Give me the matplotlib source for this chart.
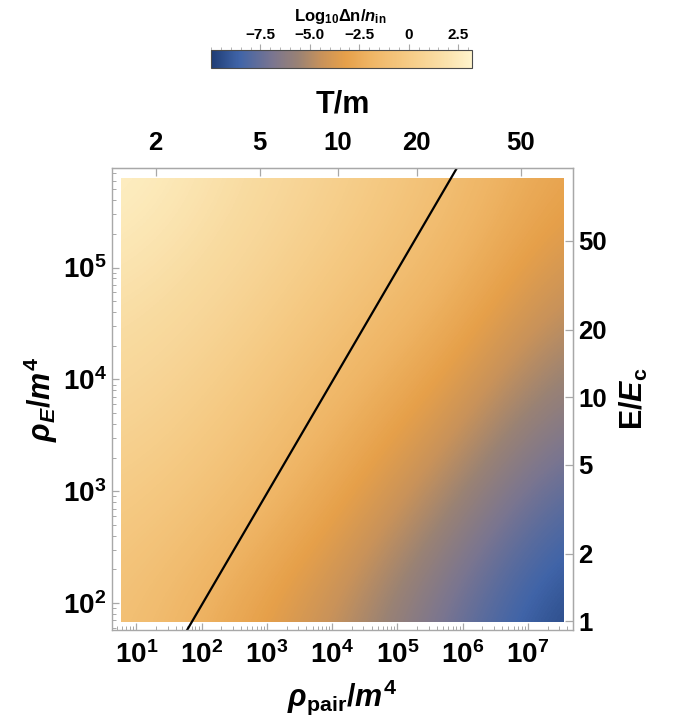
import numpy as np
import matplotlib
matplotlib.use('Agg')
import matplotlib.pyplot as plt
from matplotlib.colors import LinearSegmentedColormap
from matplotlib.patches import Rectangle
from matplotlib.ticker import FixedLocator

plt.rcParams['font.family'] = ['Liberation Sans', 'DejaVu Sans']
plt.rcParams['font.weight'] = 'bold'
plt.rcParams['mathtext.fontset'] = 'custom'
plt.rcParams['mathtext.rm'] = 'Liberation Sans:bold'
plt.rcParams['mathtext.it'] = 'Liberation Sans:bold:italic'
plt.rcParams['mathtext.bf'] = 'Liberation Sans:bold'

# sample grid (log10 units)
log_rho_pair = [0.76, 2.455, 4.15, 5.845, 7.54]   # columns, log10(rho_pair/m^4)
log_rho_E = [1.83, 2.82, 3.815, 4.81, 5.80]       # rows, log10(rho_E/m^4)
# log10(dn/n_in), rows from bottom to top
log_dn = [
    [-0.8, -2.9, -4.8, -7.5, -9.9],
    [0.0, -1.2, -3.2, -5.6, -8.4],
    [1.1, -0.1, -1.8, -3.7, -6.3],
    [2.0, 1.0, -0.5, -2.0, -4.5],
    [3.1, 1.8, 0.5, -1.0, -3.0],
]
cbar_min, cbar_max = -10.0, 3.2

# black line rho_pair = rho_E (two end points, log10)
line_log_rho_pair = [1.774, 5.915]
line_log_rho_E = [1.758, 5.894]

# secondary axes: rho_pair = c T^4, rho_E = rho_c E^2
log_c_T = 0.09
log_rho_c = 1.84
T_ticks = [2, 5, 10, 20, 50]
E_ticks = [1, 2, 5, 10, 20, 50]
rho_decades_x = [1, 2, 3, 4, 5, 6, 7]
rho_decades_y = [2, 3, 4, 5]
cbar_ticks = [-7.5, -5.0, -2.5, 0, 2.5]
cbar_labels = ['\u22127.5', '\u22125.0', '\u22122.5', '0', '2.5']

# Mathematica-like density gradient
grad_vals = [-10.0, -8.6, -6.9, -5.6, -4.4, -3.2, -1.9, -0.2, 1.5, 3.2]
grad_cols = ['#1e3c74', '#4064a8', '#7a7590', '#9a8274', '#c8925a',
             '#e6a04a', '#efb565', '#f5c982', '#f9dca2', '#fff4cc']
cmap = LinearSegmentedColormap.from_list(
    'm10', [((v - cbar_min) / (cbar_max - cbar_min), c) for v, c in zip(grad_vals, grad_cols)])

W, H = 678, 723
fig = plt.figure(figsize=(W / 100, H / 100), dpi=100)
ax = fig.add_axes([112 / W, 1 - 630 / H, (573 - 112) / W, (630 - 168) / H])
ax.set_xlim(0.625, 7.69)
ax.set_ylim(1.76, 5.89)

dx = (log_rho_pair[1] - log_rho_pair[0]) / 2
dy = (log_rho_E[1] - log_rho_E[0]) / 2
im = ax.imshow(np.array(log_dn), origin='lower', cmap=cmap, vmin=cbar_min, vmax=cbar_max,
               extent=[log_rho_pair[0] - dx, log_rho_pair[-1] + dx,
                       log_rho_E[0] - dy, log_rho_E[-1] + dy],
               interpolation='bicubic', aspect='auto')
clip = Rectangle((log_rho_pair[0], log_rho_E[0]), log_rho_pair[-1] - log_rho_pair[0],
                 log_rho_E[-1] - log_rho_E[0], transform=ax.transData)
im.set_clip_path(clip)

ax.plot(line_log_rho_pair, line_log_rho_E, color='black', lw=1.6)

frame_col = '#a8a8a8'
for s in ax.spines.values():
    s.set_color(frame_col)
    s.set_linewidth(1.0)

minor_x = [d + np.log10(k) for d in range(0, 8) for k in range(2, 10)]
minor_y = [d + np.log10(k) for d in range(1, 6) for k in range(2, 10)]
ax.xaxis.set_major_locator(FixedLocator(rho_decades_x))
ax.set_xticklabels([r'$\mathbf{10^{%d}}$' % d for d in rho_decades_x])
ax.xaxis.set_minor_locator(FixedLocator(minor_x))
ax.yaxis.set_major_locator(FixedLocator(rho_decades_y))
ax.set_yticklabels([r'$\mathbf{10^{%d}}$' % d for d in rho_decades_y])
ax.yaxis.set_minor_locator(FixedLocator(minor_y))
ax.tick_params(which='both', direction='in', color=frame_col, labelsize=20)
ax.tick_params(which='major', length=5, width=0.9)
ax.tick_params(which='minor', length=3, width=0.7)
ax.tick_params(axis='x', pad=8)
ax.tick_params(axis='y', pad=4)

ax.set_xlabel(r'$\rho_\mathrm{pair}/m^4$', fontsize=22, labelpad=6)
ax.set_ylabel(r'$\rho_E/m^4$', fontsize=22, labelpad=2)

top = ax.secondary_xaxis('top', functions=(lambda x: (x - log_c_T) / 4, lambda t: 4 * t + log_c_T))
top.set_xticks(np.log10(T_ticks))
top.set_xticklabels([str(t) for t in T_ticks], fontweight='bold')
top.tick_params(direction='in', color=frame_col, labelsize=18.5, length=6, width=0.9, pad=9)
top.set_xlabel('T/m', fontsize=22, fontweight='bold', labelpad=14)
top.spines['top'].set_color(frame_col)

right = ax.secondary_yaxis('right', functions=(lambda y: (y - log_rho_c) / 2, lambda e: 2 * e + log_rho_c))
right.set_yticks(np.log10(E_ticks))
right.set_yticklabels([str(e) for e in E_ticks], fontweight='bold')
right.tick_params(direction='in', color=frame_col, labelsize=18.5, length=6, width=0.9, pad=4)
right.set_ylabel(r'$\mathrm{E}/E_\mathrm{c}$', fontsize=22, labelpad=8)
right.spines['right'].set_color(frame_col)

# colour bar
cax = fig.add_axes([211 / W, 1 - 68 / H, (472 - 211) / W, 18 / H])
cb = fig.colorbar(im, cax=cax, orientation='horizontal')
cb.outline.set_edgecolor('#4a4a4a')
cb.outline.set_linewidth(0.8)
cax.xaxis.set_ticks_position('top')
cax.set_xticks(cbar_ticks)
cax.set_xticklabels(cbar_labels, fontweight='bold')
cax.xaxis.set_minor_locator(FixedLocator(np.arange(-10.0, 3.01, 0.5)))
cax.tick_params(which='both', direction='out', color=frame_col, labelsize=11, pad=2)
cax.tick_params(which='major', length=4)
cax.tick_params(which='minor', length=2.5)
fig.text(340 / W, 1 - 16 / H, r'$\mathrm{Log}_{10}\Delta\mathrm{n}/n_\mathrm{in}$',
         ha='center', va='center', fontsize=12)

fig.savefig('out.png', dpi=100)
